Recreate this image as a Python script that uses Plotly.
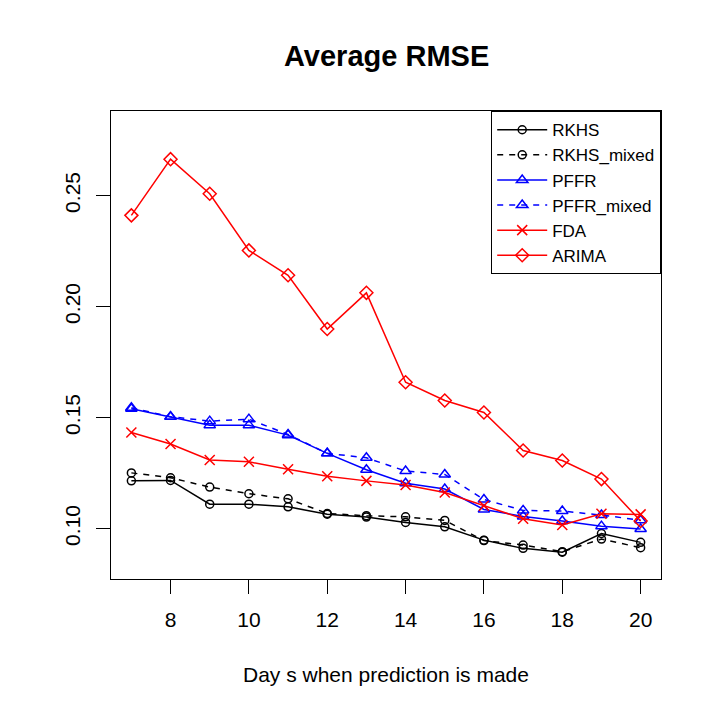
import plotly.graph_objects as go

days = list(range(7, 21))

rkhs = [0.1215, 0.1217, 0.1110, 0.1110, 0.1098, 0.1065, 0.1052,
        0.1028, 0.1008, 0.0948, 0.0911, 0.0894, 0.0978, 0.0938]
rkhs_mixed = [0.1251, 0.1229, 0.1187, 0.1157, 0.1134, 0.1068, 0.1058,
              0.1053, 0.1037, 0.0946, 0.0926, 0.0896, 0.0953, 0.0914]
pffr = [0.1540, 0.1504, 0.1466, 0.1466, 0.1421, 0.1339, 0.1265,
        0.1204, 0.1178, 0.1086, 0.1055, 0.1034, 0.1011, 0.0998]
pffr_mixed = [0.1544, 0.1504, 0.1484, 0.1493, 0.1424, 0.1339, 0.1319,
              0.1259, 0.1244, 0.1131, 0.1082, 0.1079, 0.1061, 0.1038]
fda = [0.1433, 0.1381, 0.1309, 0.1301, 0.1267, 0.1236, 0.1215,
       0.1196, 0.1163, 0.1103, 0.1044, 0.1016, 0.1067, 0.1064]
arima = [0.2411, 0.2664, 0.2508, 0.2253, 0.2141, 0.1899, 0.2062,
         0.1659, 0.1577, 0.1523, 0.1352, 0.1307, 0.1223, 0.1034]

x_ticks = [8, 10, 12, 14, 16, 18, 20]
y_ticks = [0.10, 0.15, 0.20, 0.25]

series = [
    ("RKHS", rkhs, "black", "solid", "circle-open", 8),
    ("RKHS_mixed", rkhs_mixed, "black", "6px,6px", "circle-open", 8),
    ("PFFR", pffr, "blue", "solid", "triangle-up-open", 10),
    ("PFFR_mixed", pffr_mixed, "blue", "6px,6px", "triangle-up-open", 10),
    ("FDA", fda, "red", "solid", "x-thin-open", 10),
    ("ARIMA", arima, "red", "solid", "diamond-open", 10),
]

fig = go.Figure()
for name, vals, color, dash, symbol, size in series:
    fig.add_trace(go.Scatter(
        x=days, y=vals, name=name, mode="lines+markers",
        line=dict(color=color, width=1.5, dash=dash),
        marker=dict(symbol=symbol, size=size, color=color,
                    line=dict(color=color, width=1.5)),
    ))

axis_common = dict(
    showgrid=False, zeroline=False, showline=True, mirror=True,
    linecolor="black", linewidth=1.2, ticks="outside", ticklen=14,
    tickcolor="black", tickwidth=1.2,
    tickfont=dict(family="Liberation Sans, Arial, sans-serif", size=21, color="black"),
)

# page body has an 8px margin, so margins are shifted to compensate
fig.update_layout(
    width=718, height=718,
    margin=dict(l=103, r=65, t=103, b=147),
    plot_bgcolor="white", paper_bgcolor="white",
    font=dict(family="Liberation Sans, Arial, sans-serif", color="black"),
    xaxis=dict(range=[6.48, 20.52], tickvals=x_ticks, ticklabelstandoff=8, **axis_common),
    yaxis=dict(range=[0.0773, 0.2881], tickvals=y_ticks, tickformat=".2f",
               tickangle=-90, ticklabelstandoff=8, **axis_common),
    legend=dict(x=1, y=1, xanchor="right", yanchor="top",
                bordercolor="black", borderwidth=1.2, bgcolor="white",
                font=dict(size=17, color="black"), itemwidth=50,
                tracegroupgap=0),
    showlegend=True,
    annotations=[
        dict(text="<b>Average RMSE</b>", x=0.5, y=1.117, xref="paper", yref="paper",
             xanchor="center", yanchor="middle", showarrow=False,
             font=dict(size=29, color="black")),
        dict(text="Day s when prediction is made", x=0.5, y=-0.205, xref="paper",
             yref="paper", xanchor="center", yanchor="middle", showarrow=False,
             font=dict(size=21, color="black")),
    ],
)

fig.write_html("out.html")
